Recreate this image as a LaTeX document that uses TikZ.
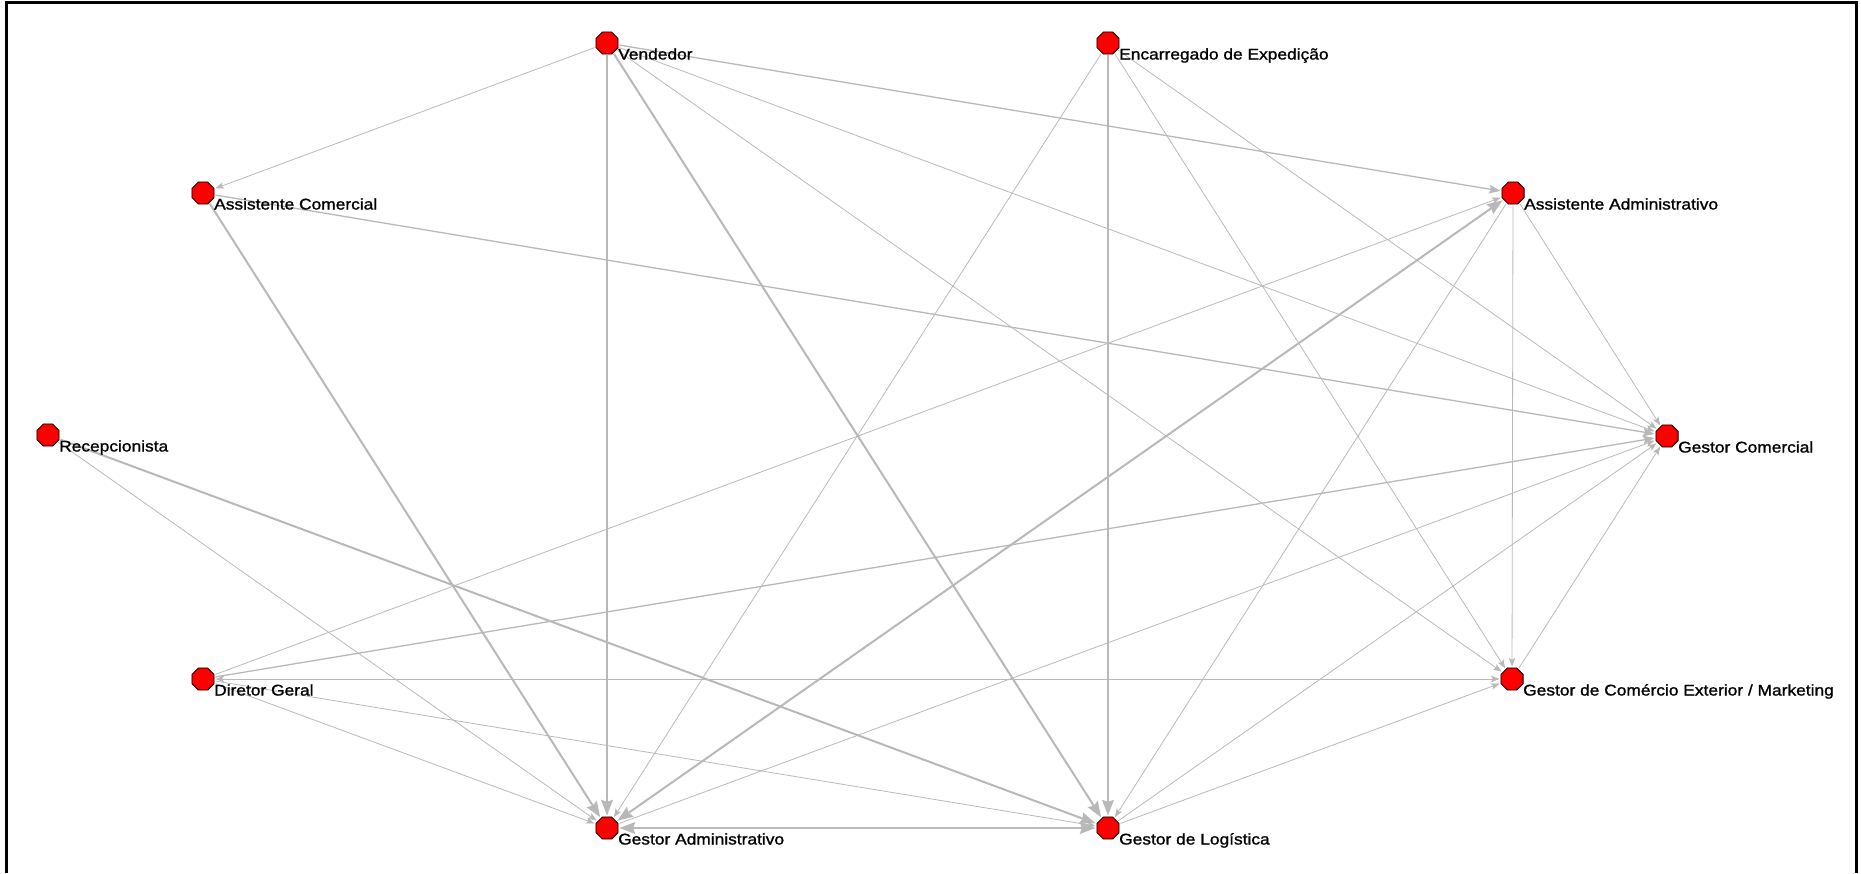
\documentclass[tikz,border=0pt]{standalone}
\usepackage{fontspec}
\setmainfont{Liberation Sans}[FakeStretch=1.12, FakeBold=1.2]
\usetikzlibrary{arrows.meta, calc, shapes.geometric, backgrounds}

\tikzset{
  vtx/.style={regular polygon, regular polygon sides=8, draw=black, line width=0.8pt, fill=red, minimum size=24pt, inner sep=0pt},
  lbl/.style={anchor=base west, inner sep=0pt, font=\fontsize{15.5}{18}\selectfont},
  tip/.tip={Stealth[inset=1.5pt, scale=1.3]},
  tie/.style={draw=black!28, line width=0.8pt, -tip, shorten >=1pt, shorten <=1pt},
  tiemid/.style={tie, line width=1.3pt},
  tiethick/.style={tie, line width=2pt},
}

\begin{document}
\begin{tikzpicture}[x=1pt, y=-1pt]
    \useasboundingbox (0,0) rectangle (1861,873);
    \draw[line width=3.5pt] (6.5,873) -- (6.5,2.5) -- (1856.5,2.5) -- (1856.5,873);

    \node[vtx] (vend) at (607,43) {};
    \node[vtx] (exped) at (1108,43) {};
    \node[vtx] (acom) at (203,193) {};
    \node[vtx] (aadm) at (1513,193) {};
    \node[vtx] (recep) at (48,435) {};
    \node[vtx] (gcom) at (1667,436) {};
    \node[vtx] (dger) at (203,679) {};
    \node[vtx] (gext) at (1512,679) {};
    \node[vtx] (gadm) at (607,828) {};
    \node[vtx] (glog) at (1108,828) {};

    \node[lbl] (vend-t) at ($(vend)+(11,16.5)$) {Vendedor};
    \node[lbl] (exped-t) at ($(exped)+(11,16.5)$) {Encarregado de Expedição};
    \node[lbl] (acom-t) at ($(acom)+(11,16.5)$) {Assistente Comercial};
    \node[lbl] (aadm-t) at ($(aadm)+(11,16.5)$) {Assistente Administrativo};
    \node[lbl] (recep-t) at ($(recep)+(11,16.5)$) {Recepcionista};
    \node[lbl] (gcom-t) at ($(gcom)+(11,16.5)$) {Gestor Comercial};
    \node[lbl] (dger-t) at ($(dger)+(11,16.5)$) {Diretor Geral};
    \node[lbl] (gext-t) at ($(gext)+(11,16.5)$) {Gestor de Comércio Exterior / Marketing};
    \node[lbl] (gadm-t) at ($(gadm)+(11,16.5)$) {Gestor Administrativo};
    \node[lbl] (glog-t) at ($(glog)+(11,16.5)$) {Gestor de Logística};

    \begin{scope}[on background layer]
        % strong ties
        \draw[tiethick, tip-tip] (gadm) -- (glog);
        \draw[tiethick, tip-tip] (gadm) -- (aadm);
        \draw[tiethick] (vend) -- (gadm);
        \draw[tiethick] (vend) -- (glog);
        \draw[tiethick] (exped) -- (glog);
        \draw[tiethick] (acom) -- (gadm);
        \draw[tiethick] (recep) -- (glog);

        \draw[tiemid] (vend) -- (aadm);
        \draw[tiemid] (acom) -- (gcom);
        \draw[tiemid] (dger) -- (gcom);

        % weak ties
        \draw[tie] (vend) -- (acom);
        \draw[tie] (vend) -- (gcom);
        \draw[tie] (vend) -- (gext);
        \draw[tie] (exped) -- (gadm);
        \draw[tie] (exped) -- (gext);
        \draw[tie] (exped) -- (gcom);
        \draw[tie] (aadm) -- (gcom);
        \draw[tie] (aadm) -- (gext);
        \draw[tie] (aadm) -- (glog);
        \draw[tie] (recep) -- (gadm);
        \draw[tie] (dger) -- (aadm);
        \draw[tie, tip-tip] (dger) -- (gext);
        \draw[tie] (dger) -- (gadm);
        \draw[tie] (dger) -- (glog);
        \draw[tie] (gadm) -- (gcom);
        \draw[tie] (glog) -- (gcom);
        \draw[tie] (glog) -- (gext);
        \draw[tie] (gext) -- (gcom);
    \end{scope}
\end{tikzpicture}
\end{document}
